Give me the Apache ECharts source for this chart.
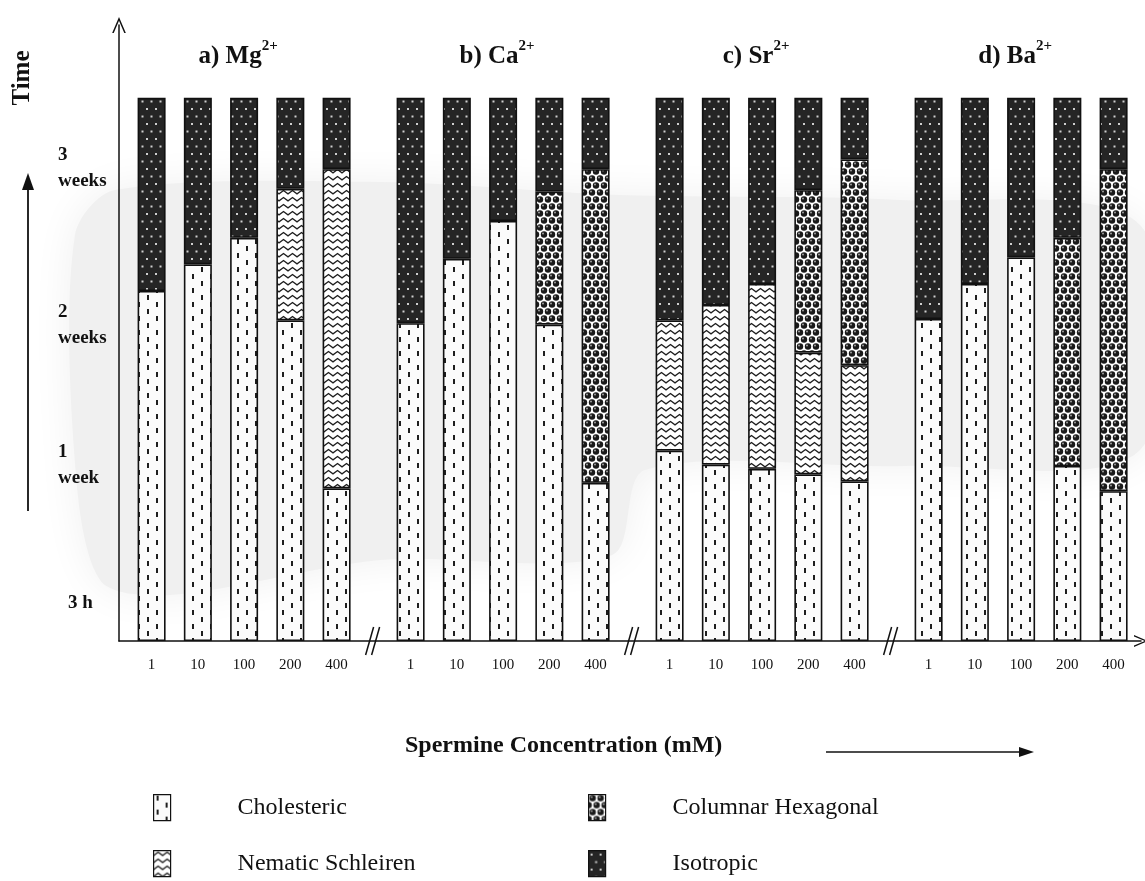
<!DOCTYPE html>
<html><head><meta charset="utf-8">
<script src="https://cdn.jsdelivr.net/npm/echarts@6/dist/echarts.min.js"></script>
<style>html,body{margin:0;padding:0;background:#fff}#c{width:1145px;height:881px}</style>
</head><body><div id="c"></div>
<script>
// ---------------- data ----------------
const groups = ['Mg', 'Ca', 'Sr', 'Ba'];
const groupLetters = ['a)', 'b)', 'c)', 'd)'];
const concentrations = ['1', '10', '100', '200', '400'];
const timeTickLabels = ['3 h', '1\nweek', '2\nweeks', '3\nweeks'];
const timeTickValues = [0.27, 1.26, 2.26, 3.38];
// phase durations (time-axis units), one row of 5 bars (1..400 mM) per cation
const cholesteric = {
  Mg: [2.50, 2.69, 2.88, 2.29, 1.09],
  Ca: [2.27, 2.73, 3.00, 2.26, 1.13],
  Sr: [1.36, 1.26, 1.23, 1.19, 1.14],
  Ba: [2.30, 2.55, 2.74, 1.25, 1.07]
};
const nematic = {
  Mg: [null, null, null, 0.94, 2.28],
  Ca: [null, null, null, null, null],
  Sr: [0.93, 1.14, 1.32, 0.87, 0.83],
  Ba: [null, null, null, null, null]
};
const columnar = {
  Mg: [null, null, null, null, null],
  Ca: [null, null, null, 0.95, 2.24],
  Sr: [null, null, null, 1.16, 1.47],
  Ba: [null, null, null, 1.63, 2.30]
};
const isotropic = {
  Mg: [1.38, 1.19, 1.00, 0.65, 0.51],
  Ca: [1.61, 1.15, 0.88, 0.67, 0.51],
  Sr: [1.59, 1.48, 1.33, 0.66, 0.44],
  Ba: [1.58, 1.33, 1.14, 1.00, 0.51]
};
const seriesNames = ['Cholesteric', 'Nematic Schleiren', 'Columnar Hexagonal', 'Isotropic'];

// ---------------- layout ----------------
const FONT = '"Liberation Serif", "Times New Roman", serif';
const PLOT_LEFT = 119, PLOT_RIGHT = 1141, TOP = 25, BOTTOM = 240;
const FIRST_BAR = 151.6, SLOT = 46.25, GROUP_STRIDE_PX = 259;
const Y_MAX = 4.4;

function makePattern(w, h, draw) {
  const c = document.createElement('canvas'); c.width = w; c.height = h;
  draw(c.getContext('2d'), w, h); return { image: c, repeat: 'repeat' };
}
const cholPat = makePattern(18, 14, (g, w, h) => {
  g.fillStyle = '#fbfbfb'; g.fillRect(0, 0, w, h);
  g.fillStyle = '#1e1e1e'; g.fillRect(3, 1, 2, 5); g.fillRect(12, 8, 2, 5);
});
const nemPat = makePattern(9, 7, (g, w, h) => {
  g.fillStyle = '#fff'; g.fillRect(0, 0, w, h);
  g.strokeStyle = '#1e1e1e'; g.lineWidth = 1.3; g.beginPath();
  g.moveTo(-1, 5.6); g.lineTo(4.5, 1.5); g.lineTo(10, 5.6); g.stroke();
});
const colPat = makePattern(8, 14, (g, w, h) => {
  g.fillStyle = '#fff'; g.fillRect(0, 0, w, h);
  [[4, 3.5], [0, 10.5], [8, 10.5]].forEach(([x, y]) => {
    g.fillStyle = '#1a1a1a'; g.beginPath(); g.arc(x, y, 3.2, 0, Math.PI * 2); g.fill();
    g.fillStyle = '#a0a0a0'; g.beginPath(); g.arc(x - 1, y - 1, 1, 0, Math.PI * 2); g.fill();
  });
});
const isoPat = makePattern(9, 15, (g, w, h) => {
  g.fillStyle = '#252525'; g.fillRect(0, 0, w, h);
  g.fillStyle = '#cfcfcf'; g.fillRect(2, 3, 2, 2); g.fillRect(6.5, 10.5, 2, 2);
});
const patterns = [cholPat, nemPat, colPat, isoPat];
const phaseData = [cholesteric, nematic, columnar, isotropic];

const yLabelOf = v => {
  const k = timeTickValues.findIndex(t => Math.abs(t - v) < 1e-6);
  if (k < 0) return '';
  if (k === 0) return '{h|' + timeTickLabels[0] + '}';
  return timeTickLabels[k].split('\n').map(s => '{t|' + s + '}').join('\n');
};
const arrowPath = 'path://M0,14 L6,0 L12,14 L10.6,14 L6,3.2 L1.4,14 Z';

const grids = [{ left: PLOT_LEFT, width: PLOT_RIGHT - PLOT_LEFT, top: TOP, bottom: BOTTOM }];
const xAxes = [{
  gridIndex: 0, type: 'value', min: 0, max: 1,
  axisLine: { show: true, onZero: false, lineStyle: { color: '#111', width: 1.5 }, symbol: ['none', arrowPath], symbolSize: [12, 14] },
  axisTick: { show: false }, axisLabel: { show: false }, splitLine: { show: false }
}];
const yAxes = [{
  gridIndex: 0, type: 'value', min: 0, max: Y_MAX,
  axisLine: { show: true, onZero: false, lineStyle: { color: '#111', width: 1.5 }, symbol: ['none', arrowPath], symbolSize: [14, 16] },
  axisTick: { show: false }, splitLine: { show: false },
  axisLabel: { customValues: timeTickValues, formatter: yLabelOf, margin: 61, align: 'left',
    rich: {
      t: { fontFamily: FONT, fontWeight: 'bold', fontSize: 19, lineHeight: 26, color: '#111' },
      h: { fontFamily: FONT, fontWeight: 'bold', fontSize: 19, color: '#111', padding: [0, 0, 0, 10] }
    } }
}];
const series = [];
groups.forEach((g, k) => {
  const gi = k + 1;
  grids.push({ left: FIRST_BAR + k * GROUP_STRIDE_PX - SLOT / 2, width: 5 * SLOT, top: TOP, bottom: BOTTOM });
  xAxes.push({ gridIndex: gi, type: 'category', data: concentrations,
    axisLine: { show: false }, axisTick: { show: false }, splitLine: { show: false },
    axisLabel: { margin: 17, fontFamily: FONT, fontSize: 15, color: '#111', interval: 0 } });
  yAxes.push({ gridIndex: gi, type: 'value', min: 0, max: Y_MAX, show: false, splitLine: { show: false } });
  phaseData.forEach((ph, i) => series.push({
    name: seriesNames[i], type: 'bar', stack: 'time' + g, barWidth: 28,
    xAxisIndex: gi, yAxisIndex: gi, data: ph[g],
    itemStyle: { color: patterns[i], borderColor: '#111', borderWidth: 1.6 },
    emphasis: { disabled: true }
  }));
});

const legendPos = [[148, 789], [148, 845], [583, 789], [583, 845]];
const chart = echarts.init(document.getElementById('c'));
chart.setOption({
  animation: false,
  backgroundColor: '#fff',
  grid: grids, xAxis: xAxes, yAxis: yAxes,
  legend: seriesNames.map((n, i) => ({
    data: [n], left: legendPos[i][0], top: legendPos[i][1], orient: 'horizontal',
    itemWidth: 17, itemHeight: 26, icon: 'rect', selectedMode: false,
    itemStyle: { borderColor: '#111', borderWidth: 1.2 },
    textStyle: { fontFamily: FONT, fontSize: 24, color: '#111', padding: [0, 0, 0, 62] }
  })),
  series: series
});

// decorations
const yBase = chart.convertToPixel({ yAxisIndex: 0 }, 0);
const graphics = [];
// faint grey scan shading behind the plot
graphics.push({ type: 'polygon', z: -10, silent: true,
  shape: { smooth: 0.3, points: [[75, 235], [115, 190], [380, 182], [620, 195], [900, 200], [1140, 225], [1140, 450],
    [905, 466], [645, 470], [612, 555], [380, 560], [170, 595], [100, 580], [74, 450]] },
  style: { fill: '#f0f0f0', shadowBlur: 40, shadowColor: '#f0f0f0' } });
groups.forEach((g, k) => {
  const cx = chart.convertToPixel({ xAxisIndex: k + 1 }, concentrations[2]);
  graphics.push({
    type: 'text', x: cx - 6, y: 57,
    style: { text: '{b|' + groupLetters[k] + ' ' + g + '}{s|2+}', align: 'center', verticalAlign: 'middle',
      rich: { b: { fontFamily: FONT, fontWeight: 'bold', fontSize: 25, fill: '#111' },
              s: { fontFamily: FONT, fontWeight: 'bold', fontSize: 15, fill: '#111', padding: [0, 0, 22, 0] } } }
  });
});
for (let k = 0; k < 3; k++) {
  const x1 = chart.convertToPixel({ xAxisIndex: k + 1 }, concentrations[4]);
  const x2 = chart.convertToPixel({ xAxisIndex: k + 2 }, concentrations[0]);
  const cx = (x1 + x2) / 2;
  [-4, 2].forEach(d => graphics.push({ type: 'line',
    shape: { x1: cx + d - 4, y1: yBase + 14, x2: cx + d + 4, y2: yBase - 14 },
    style: { stroke: '#111', lineWidth: 1.5 } }));
}
graphics.push({ type: 'text', x: 23, y: 78, rotation: Math.PI / 2,
  style: { text: 'Time', align: 'center', verticalAlign: 'middle', fontFamily: FONT, fontWeight: 'bold', fontSize: 25, fill: '#111' } });
graphics.push({ type: 'line', shape: { x1: 28, y1: 511, x2: 28, y2: 186 }, style: { stroke: '#111', lineWidth: 1.8 } });
graphics.push({ type: 'polygon', shape: { points: [[28, 173], [22, 190], [34, 190]] }, style: { fill: '#111' } });
graphics.push({ type: 'text', x: 405, y: 746,
  style: { text: 'Spermine Concentration (mM)', align: 'left', verticalAlign: 'middle', fontFamily: FONT, fontWeight: 'bold', fontSize: 24, fill: '#111' } });
graphics.push({ type: 'line', shape: { x1: 826, y1: 752, x2: 1022, y2: 752 }, style: { stroke: '#111', lineWidth: 1.5 } });
graphics.push({ type: 'polygon', shape: { points: [[1034, 752], [1019, 747], [1019, 757]] }, style: { fill: '#111' } });
chart.setOption({ graphic: graphics });
</script></body></html>
